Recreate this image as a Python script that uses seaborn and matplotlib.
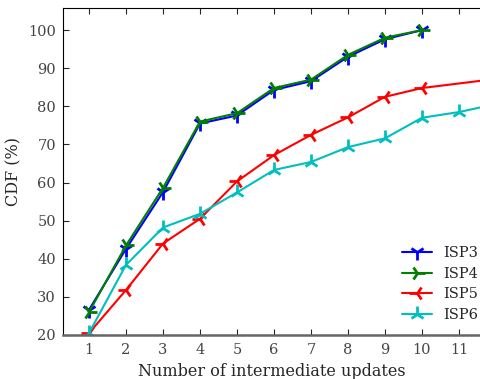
import numpy as np
import pandas as pd
import matplotlib
matplotlib.use("Agg")
import matplotlib.pyplot as plt
import seaborn as sns

# values
updates = [1, 2, 3, 4, 5, 6, 7, 8, 9, 10]
isp3 = [26.6, 42.6, 57.5, 75.5, 77.6, 84.3, 86.6, 93.0, 97.6, 100.0]
isp4 = [26.0, 43.5, 58.6, 76.0, 78.2, 84.8, 87.0, 93.5, 98.0, 100.0]
isp5_x = [1, 2, 3, 4, 5, 6, 7, 8, 9, 10, 12]
isp5 = [20.5, 31.8, 44.0, 50.5, 60.3, 67.2, 72.5, 77.1, 82.5, 84.8, 87.2]
isp6_x = [1, 2, 3, 4, 5, 6, 7, 8, 9, 10, 11, 12]
isp6 = [20.5, 38.4, 48.2, 51.8, 57.4, 63.3, 65.4, 69.3, 71.6, 77.0, 78.5, 80.6]

series = {"ISP3": (updates, isp3), "ISP4": (updates, isp4),
          "ISP5": (isp5_x, isp5), "ISP6": (isp6_x, isp6)}
colors = {"ISP3": "#0000ff", "ISP4": "#007f00", "ISP5": "#ff0000", "ISP6": "#00bfbf"}
markers = {"ISP3": "1", "ISP4": "4", "ISP5": "3", "ISP6": "2"}

sns.set_style("ticks")
plt.rcParams["font.family"] = ["DejaVu Serif"]

fig = plt.figure(figsize=(4.81, 3.79), dpi=100)
ax = fig.add_axes([63 / 481, 1 - 335 / 379, 1 - 63 / 481, (335 - 8) / 379])

for name, (xs, vals) in series.items():
    df = pd.DataFrame({"x": xs, "y": vals})
    sns.lineplot(data=df, x="x", y="y", ax=ax, color=colors[name], marker=markers[name],
                 markersize=11, markeredgewidth=2, markeredgecolor=colors[name],
                 linewidth=1.5, label=name)

ax.set_xlim(0.297, 11.595)
ax.set_ylim(20, 105.8)
ax.set_xticks(range(1, 12))
ax.set_yticks(range(20, 101, 10))
ax.set_xlabel("Number of intermediate updates", fontsize=11.5, labelpad=4)
ax.set_ylabel("CDF (%)", fontsize=11.5, labelpad=4)

ax.tick_params(axis="x", direction="in", top=True, length=4, labelsize=10.5,
               labelcolor="#444444", pad=6)
ax.tick_params(axis="y", direction="in", length=4, labelsize=10.5,
               labelcolor="#444444", pad=5)
ax.spines["right"].set_visible(False)
ax.spines["bottom"].set_color("#666666")
ax.spines["bottom"].set_linewidth(1.8)
ax.spines["left"].set_color("black")
ax.spines["top"].set_color("black")

ax.legend(loc="lower right", bbox_to_anchor=(1.025, 0.0), frameon=False, fontsize=10.5,
          handlelength=2.0, handletextpad=0.8, labelspacing=0.45)

fig.savefig("out.png", dpi=100)
